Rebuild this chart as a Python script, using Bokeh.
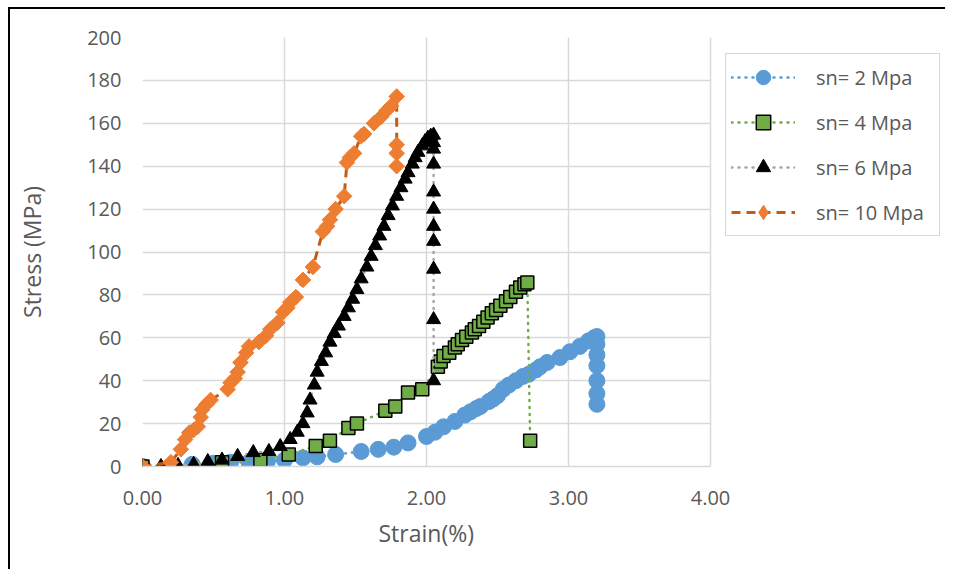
import math
from bokeh.plotting import figure
from bokeh.models import Range1d, FixedTicker, Legend, LegendItem, CustomJSTickFormatter, Title
from bokeh.embed import file_html
from bokeh.resources import INLINE

# ---- data (strain %, stress MPa) ----
s2_x = [0.00, 0.35, 0.50, 0.62, 0.75, 0.88, 1.00, 1.13, 1.23, 1.36, 1.54, 1.66, 1.77, 1.87,
        2.00, 2.06, 2.12, 2.20, 2.27, 2.31, 2.35, 2.38, 2.44, 2.47, 2.50, 2.54, 2.58, 2.63,
        2.68, 2.72, 2.77, 2.80, 2.85, 2.94, 3.01, 3.08, 3.14, 3.18, 3.20, 3.20, 3.20, 3.20,
        3.20, 3.20, 3.20]
s2_y = [0, 1, 1.5, 2, 2, 2.5, 3, 4, 4.5, 5.6, 7, 8, 9, 11,
        14, 16, 18.5, 21, 24, 25.5, 27, 28, 30.3, 31.5, 33, 36, 38, 40,
        42, 43, 45, 46.5, 48.5, 50.8, 53.5, 56, 58.5, 60, 60.6, 57, 52, 47,
        40, 34, 29]

s4_x = [0.00, 0.56, 0.83, 1.03, 1.22, 1.32, 1.45, 1.51, 1.71, 1.78, 1.87, 1.97, 2.08, 2.10,
        2.12, 2.16, 2.20, 2.22, 2.25, 2.28, 2.32, 2.34, 2.37, 2.40, 2.43, 2.46, 2.49, 2.52,
        2.56, 2.59, 2.63, 2.66, 2.69, 2.71, 2.73]
s4_y = [0, 2, 3, 5.6, 9.5, 12, 18, 20, 26, 28, 34.5, 36, 46.5, 49,
        51.5, 53, 55.5, 57, 59, 60.5, 62.5, 64, 65.5, 67.5, 69.5, 71.5, 73, 75,
        77, 79, 81.5, 83.5, 85, 85.8, 12]

s6_x = [0.00, 0.13, 0.25, 0.36, 0.46, 0.56, 0.67, 0.78, 0.89, 0.97, 1.04, 1.09, 1.13, 1.16,
        1.18, 1.21, 1.23, 1.26, 1.29, 1.32, 1.35, 1.38, 1.42, 1.45, 1.48, 1.51, 1.54, 1.58,
        1.61, 1.64, 1.67, 1.70, 1.73, 1.76, 1.79, 1.82, 1.85, 1.87, 1.90, 1.92, 1.94, 1.97,
        1.99, 2.01, 2.03, 2.05, 2.05, 2.05, 2.05, 2.05, 2.05, 2.05, 2.05, 2.05, 2.05, 2.05]
s6_y = [0, 0, 0.5, 1, 2.3, 3, 4.7, 6.5, 7, 9.3, 12.6, 16, 20, 25,
        31, 38, 44, 49, 53, 58, 62, 65.5, 70, 74, 78, 82.5, 87.5, 93,
        98, 103, 107.5, 112, 117, 121.5, 126, 130, 134, 137, 141, 144, 146.5, 149.5,
        151.5, 153, 154, 154.5, 151, 148, 141, 128, 120, 112, 105, 92, 68.5, 40]

s10_x = [0.00, 0.20, 0.27, 0.30, 0.33, 0.36, 0.39, 0.41, 0.42, 0.45, 0.48, 0.60, 0.62, 0.65,
         0.67, 0.69, 0.73, 0.75, 0.82, 0.87, 0.90, 0.95, 0.99, 1.02, 1.04, 1.08, 1.13, 1.20,
         1.27, 1.30, 1.32, 1.36, 1.42, 1.44, 1.46, 1.49, 1.54, 1.56, 1.63, 1.68, 1.72, 1.75,
         1.79, 1.79, 1.79, 1.79]
s10_y = [0, 2, 8, 12.6, 15.8, 17, 18.6, 23, 26.5, 29, 31, 36, 39, 41,
         44, 48.5, 53, 56, 58, 61, 64, 67, 72, 74, 76.5, 79, 87, 93,
         109.5, 112, 115, 120, 126, 141.7, 144, 146, 154, 155, 160, 163, 166, 168,
         172.5, 150, 146, 140]

series_labels = ["sn= 2 Mpa", "sn= 4 Mpa", "sn= 6 Mpa", "sn= 10 Mpa"]
x_ticks = [0, 1, 2, 3, 4]
y_ticks = [0, 20, 40, 60, 80, 100, 120, 140, 160, 180, 200]
x_title = "Strain(%)"
y_title = "Stress (MPa)"

FONT = "Open Sans"
TXT = "#595959"
GRID = "#d9d9d9"

# frame spans the data area (568 px for 0..4) plus the legend strip to its right
DATA_W = 568
FRAME_W = 804
x_end = x_ticks[-1] * FRAME_W / DATA_W

p = figure(width=937, height=562, output_backend="svg", toolbar_location=None,
           x_range=Range1d(0, x_end), y_range=Range1d(0, 200),
           min_border_left=132, min_border_top=28, min_border_right=1, min_border_bottom=105)
p.outline_line_color = None
p.background_fill_color = "white"
p.border_fill_color = "white"
p.styles = {"border-left": "2px solid black", "border-top": "2px solid black",
            "margin-left": "8px", "margin-top": "7px"}

p.xaxis.ticker = FixedTicker(ticks=x_ticks)
p.yaxis.ticker = FixedTicker(ticks=y_ticks)
p.xaxis.formatter = CustomJSTickFormatter(code="return tick.toFixed(2);")
p.xaxis.bounds = (x_ticks[0], x_ticks[-1])
p.xgrid.ticker = FixedTicker(ticks=x_ticks)
p.ygrid.ticker = FixedTicker(ticks=y_ticks)
p.grid.grid_line_color = GRID
p.grid.grid_line_width = 1.5
try:
    p.ygrid.cross_bounds = (x_ticks[0], x_ticks[-1])
except Exception:
    p.ygrid.visible = False
    p.segment(x0=[x_ticks[0]] * len(y_ticks), x1=[x_ticks[-1]] * len(y_ticks),
              y0=y_ticks, y1=y_ticks, line_color=GRID, line_width=1.5)

for ax in (p.xaxis, p.yaxis):
    ax.major_tick_line_color = None
    ax.minor_tick_line_color = None
    ax.major_label_text_font = FONT
    ax.major_label_text_color = TXT
    ax.major_label_text_font_size = "20px"
    ax.axis_label_text_font = FONT
    ax.axis_label_text_color = TXT
    ax.axis_label_text_font_size = "23px"
    ax.axis_label_text_font_style = "normal"
p.xaxis.axis_line_color = GRID
p.xaxis.axis_line_width = 1.5
p.yaxis.axis_line_color = None
p.yaxis.axis_label = y_title
p.xaxis.major_label_standoff = 18
p.yaxis.major_label_standoff = 15
p.yaxis.axis_label_standoff = 36

# x-axis title centred under the 0..4 data span (not the whole frame)
xt = Title(text=x_title, align="left", offset=236, standoff=14,
           text_font=FONT, text_font_size="23px", text_color=TXT, text_font_style="normal")
p.add_layout(xt, "below")

items = []
# sn = 2 MPa
l1 = p.line(s2_x, s2_y, line_color="#5B9BD5", line_width=2.5, line_dash="1 6", line_cap="round")
m1 = p.scatter(s2_x, s2_y, marker="circle", size=16, fill_color="#5B9BD5", line_color="#5B9BD5")
items.append(LegendItem(label=series_labels[0], renderers=[l1, m1]))
# sn = 4 MPa
l2 = p.line(s4_x, s4_y, line_color="#70AD47", line_width=2.5, line_dash="1 6", line_cap="round")
m2 = p.scatter(s4_x, s4_y, marker="square", size=13, fill_color="#70AD47", line_color="black", line_width=1.5)
items.append(LegendItem(label=series_labels[1], renderers=[l2, m2]))
# sn = 6 MPa
l3 = p.line(s6_x, s6_y, line_color="#A5A5A5", line_width=2.5, line_dash="1 6", line_cap="round")
m3 = p.scatter(s6_x, s6_y, marker="triangle", size=14, fill_color="black", line_color="black")
items.append(LegendItem(label=series_labels[2], renderers=[l3, m3]))
# sn = 10 MPa
l4 = p.line(s10_x, s10_y, line_color="#C55A11", line_width=3, line_dash="9 6")
m4 = p.scatter(s10_x, s10_y, marker="square", size=11, angle=math.pi / 4,
               fill_color="#ED7D31", line_color="#ED7D31")
# legend key only (no visible point): the diamond shape for the legend entry
m4_key = p.scatter(x=[float("nan")], y=[float("nan")], marker="diamond", size=18,
                   fill_color="#ED7D31", line_color="#ED7D31")
items.append(LegendItem(label=series_labels[3], renderers=[l4, m4_key]))

legend = Legend(items=items, location=(583, 230))
legend.border_line_color = "#b0b0b0"
legend.border_line_width = 1.5
legend.background_fill_color = "white"
legend.background_fill_alpha = 1
legend.label_text_font = FONT
legend.label_text_color = TXT
legend.label_text_font_size = "20px"
legend.glyph_width = 64
legend.glyph_height = 36
legend.label_height = 20
legend.label_width = 118
legend.spacing = 9
legend.padding = 5
legend.label_standoff = 21
legend.margin = 0
p.add_layout(legend, "center")

open("out.html", "w").write(file_html(p, INLINE))
